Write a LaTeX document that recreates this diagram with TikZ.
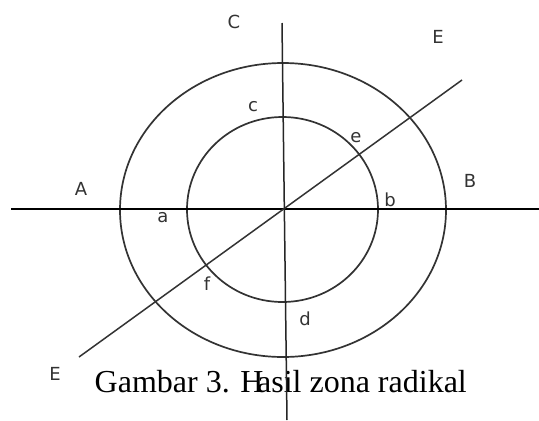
\documentclass[tikz,border=0pt]{standalone}
\usepackage{fontspec}
\setmainfont{Liberation Serif}
\newfontfamily\lblfont{DejaVu Sans}
\begin{document}
\begin{tikzpicture}[x=1pt,y=-1pt,
  lbl/.style={font=\lblfont\fontsize{18}{18}\selectfont, text=black!80, inner sep=0pt},
  ring/.style={draw=black!80, line width=1.7pt},
  axis/.style={draw=black, line width=1.7pt}]
\useasboundingbox[fill=white] (0,0) rectangle (539,421);
% circles
\draw[ring] (283,210) ellipse [x radius=163, y radius=147];
\draw[ring] (282.5,209.5) ellipse [x radius=95.5, y radius=92.5];
% lines
\coordinate (hl) at (11,209);
\coordinate (hr) at (539,209);
\coordinate (vt) at (282,23);
\coordinate (vb) at (287,420);
\coordinate (dl) at (79,357);
\coordinate (dr) at (462,80);
\draw[axis] (hl) -- (hr);
\draw[axis, draw=black!80, line width=1.5pt] (dl) -- (dr);
% labels
\node[lbl] (C) at (234,22) {C};
\node[lbl] (E1) at (438,37) {E};
\node[lbl] (c) at (253,107) {c};
\node[lbl] (e) at (356,138) {e};
\node[lbl] (A) at (81,189) {A};
\node[lbl] (B) at (470,181) {B};
\node[lbl] (b) at (390,200) {b};
\node[lbl] (a) at (163,218) {a};
\node[lbl] (f) at (207,284) {f};
\node[lbl] (d) at (305,319) {d};
\node[lbl] (E2) at (55,374) {E};
% caption
\node[anchor=base west, inner sep=0pt, font=\fontsize{32}{32}\selectfont] (cap) at (94.5,392) {Gambar 3. H\kern-0.2em asil zona radikal};
\draw[axis, draw=black!85, line width=1.5pt] (vt) -- (vb);
\end{tikzpicture}
\end{document}
